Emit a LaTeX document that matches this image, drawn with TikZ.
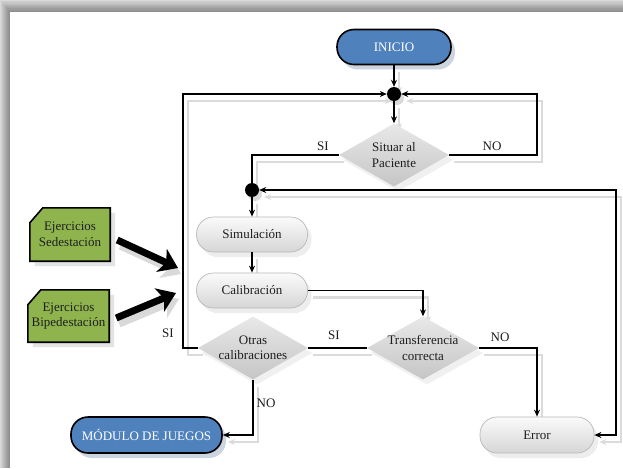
\documentclass[tikz,border=0pt]{standalone}
\usepackage{fontspec}
\setmainfont{Liberation Serif}
\usetikzlibrary{arrows.meta,shapes.geometric,shadows,calc}
\definecolor{pillblue}{RGB}{79,129,189}
\definecolor{blueshadow}{RGB}{203,212,223}
\definecolor{leafgreen}{RGB}{143,180,78}
\definecolor{inkgray}{RGB}{30,30,30}
\pgfdeclarelayer{paper}
\pgfdeclarelayer{under}
\pgfsetlayers{paper,under,main}

\tikzset{
  every node/.style={font=\fontsize{13}{15.5}\selectfont, text=inkgray, align=center},
  startstop/.style={rectangle, rounded corners=17pt, minimum width=114pt, minimum height=35pt,
    fill=pillblue, draw=black, line width=1.6pt, text=white,
    drop shadow={shadow xshift=4pt, shadow yshift=-5pt, fill=blueshadow, opacity=1}},
  process/.style={rectangle, rounded corners=17pt, minimum width=111pt, minimum height=35pt,
    draw=gray!55, line width=0.7pt, top color=gray!4, bottom color=gray!32,
    drop shadow={shadow xshift=4pt, shadow yshift=-5pt, fill=gray!14, opacity=1}},
  decision/.style={diamond, aspect=1.7, inner sep=-6pt, minimum width=110pt, minimum height=63pt,
    top color=gray!18, bottom color=gray!45,
    drop shadow={shadow xshift=4pt, shadow yshift=-5pt, fill=gray!12, opacity=1}},
  junction/.style={circle, fill=black, minimum size=14pt, inner sep=0pt,
    drop shadow={shadow xshift=3pt, shadow yshift=-4pt, fill=gray!30, opacity=1}},
  inputbox/.style={rectangle, minimum width=80pt, minimum height=53pt, inner sep=0pt},
  tag/.style={inner sep=1pt},
  flow/.style={draw=black, line width=1.7pt},
  flowshadow/.style={draw=gray!28, line width=2.4pt, transform canvas={shift={(5pt,-7pt)}}},
  tip/.style={-{Stealth[length=7pt,width=6pt]}},
  twotips/.style={{Stealth[length=7pt,width=6pt]}-{Stealth[length=7pt,width=6pt]}},
  bigarrow/.style={line width=7pt, -{Stealth[length=18pt,width=25pt,inset=5pt]}},
}

% connector with its grey offset shadow underneath
\newcommand{\flowlink}[2][tip]{%
  \begin{pgfonlayer}{under}\path[flowshadow,#1] #2;\end{pgfonlayer}
  \path[flow,#1] #2;}

% green input box with a cut top-left corner
\newcommand{\chamferbox}[1]{%
  \begin{pgfonlayer}{under}
  \fill[gray!22, transform canvas={shift={(5pt,-5pt)}}]
    ($(#1.north west)+(13,0)$) -- (#1.north east) -- (#1.south east)
    -- (#1.south west) -- ($(#1.north west)+(0,15)$) -- cycle;
  \filldraw[fill=leafgreen, draw=black, line width=1.6pt]
    ($(#1.north west)+(13,0)$) -- (#1.north east) -- (#1.south east)
    -- (#1.south west) -- ($(#1.north west)+(0,15)$) -- cycle;
  \end{pgfonlayer}}

\begin{document}
\begin{tikzpicture}[x=1pt,y=-1pt]
\useasboundingbox (0,0) rectangle (623,468);

% sheet with its shadow along the top and left edges
\begin{pgfonlayer}{paper}
  \fill[gray!22] (0,0) rectangle (623,468);
  \foreach \i in {0,...,9}
    \fill[black,opacity=0.045] (\i,1.2*\i) rectangle (623,468);
  \fill[white] (10,12) rectangle (623,468);
\end{pgfonlayer}

% nodes
\node[startstop] (inicio) at (394,47) {INICIO};
\node[junction] (j1) at (394,94) {};
\node[decision] (situar) at (394,155) {Situar al\\Paciente};
\node[junction] (j2) at (252,190) {};
\node[process] (sim) at (252,234.5) {Simulación};
\node[process] (cal) at (252,290.5) {Calibración};
\node[decision] (otras) at (253,348) {Otras\\calibraciones};
\node[decision, minimum width=112pt] (transf) at (423,348) {Transferencia\\correcta};
\node[startstop, minimum width=151pt, minimum height=36pt] (modulo) at (146.5,435) {MÓDULO DE JUEGOS};
\node[process, minimum width=114pt, minimum height=36pt] (error) at (537,435) {Error};
\node[inputbox] (sed) at (70,234.5) {Ejercicios\\Sedestación};
\node[inputbox, minimum width=81pt, minimum height=52pt] (bip) at (68.5,316) {Ejercicios\\Bipedestación};
\chamferbox{sed}
\chamferbox{bip}

% corner points of the loops
\coordinate (nw) at (183,94);
\coordinate (nr) at (537,94);
\coordinate (ne) at (616,190);
\coordinate (sedtip) at (178,268);
\coordinate (biptip) at (176,293);

% connectors
\flowlink{(inicio) -- (j1)}
\flowlink{(j1) -- (situar)}
\flowlink{(situar.east) -| (nr) -- (j1.east)}
\flowlink[-]{(situar.west) -| (j2.north)}
\flowlink{(j2) -- (sim)}
\flowlink{(sim) -- (cal)}
\flowlink{(cal.east) -| (transf.north)}
\flowlink[-]{(transf.west) -- (otras.east)}
\flowlink{(otras.west) -| (nw) -- (j1.west)}
\flowlink{(transf.east) -| (error.north)}
\flowlink{(otras.south) |- (modulo.east)}
\flowlink[twotips]{(error.east) -| (ne) -- (j2.east)}

% exercise inputs
\begin{pgfonlayer}{under}
  \draw[bigarrow, draw=gray!30, transform canvas={shift={(3pt,-6pt)}}] ($(sed.east)+(7,5.5)$) -- (sedtip);
  \draw[bigarrow, draw=gray!30, transform canvas={shift={(3pt,-6pt)}}] ($(bip.east)+(7,2)$) -- (biptip);
\end{pgfonlayer}
\draw[bigarrow] ($(sed.east)+(7,5.5)$) -- (sedtip);
\draw[bigarrow] ($(bip.east)+(7,2)$) -- (biptip);

% branch labels
\node[tag] (siA) at (323,146) {SI};
\node[tag] (noA) at (492,146) {NO};
\node[tag] (siB) at (168,333) {SI};
\node[tag] (siC) at (334,335) {SI};
\node[tag] (noB) at (500,337) {NO};
\node[tag] (noC) at (266,403) {NO};
\end{tikzpicture}
\end{document}
